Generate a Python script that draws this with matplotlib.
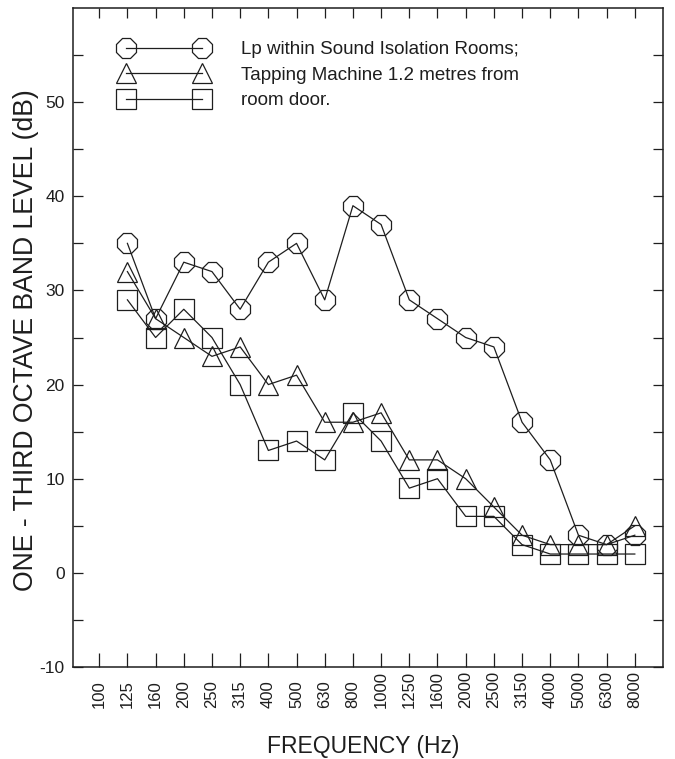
import matplotlib.pyplot as plt
import numpy as np

plt.rcParams['font.family'] = ['Liberation Sans', 'DejaVu Sans']
plt.rcParams['axes.unicode_minus'] = False

# third-octave band centre frequencies (Hz) used as tick labels
freq_labels = ['100', '125', '160', '200', '250', '315', '400', '500', '630', '800',
               '1000', '1250', '1600', '2000', '2500', '3150', '4000', '5000', '6300', '8000']

# levels (dB) for bands 125 .. 8000 Hz
lp_circle = [35, 27, 33, 32, 28, 33, 35, 29, 39, 37, 29, 27, 25, 24, 16, 12, 4, 3, 4]
lp_triangle = [32, 27, 25, 23, 24, 20, 21, 16, 16, 17, 12, 12, 10, 7, 4, 3, 3, 3, 5]
lp_square = [29, 25, 28, 25, 20, 13, 14, 12, 17, 14, 9, 10, 6, 6, 3, 2, 2, 2, 2]

legend_text = ['Lp within Sound Isolation Rooms;',
               'Tapping Machine 1.2 metres from',
               'room door.']

ink = '#1e1e1e'

fig = plt.figure(figsize=(6.75, 7.59), dpi=100)
W, H = 675, 759
ax = fig.add_axes([73 / W, 1 - 667 / H, (663 - 73) / W, (667 - 8) / H])

xpos = np.arange(1, len(freq_labels))
ms = 15
kw = dict(color=ink, lw=0.9, mfc='none', mec=ink, mew=0.9, ms=ms)
ax.plot(xpos, lp_circle, marker='8', label=legend_text[0], **kw)
ax.plot(xpos, lp_triangle, marker='^', label=legend_text[1], **kw)
ax.plot(xpos, lp_square, marker='s', label=legend_text[2], **kw)

ax.set_xlim(-0.93, 20.0)
ax.set_ylim(-10, 60)

ax.set_xticks(np.arange(len(freq_labels)))
ax.set_xticklabels(freq_labels, rotation=90, rotation_mode='anchor',
                   ha='left', va='center', fontsize=12, color=ink)
ax.tick_params(axis='x', direction='in', top=True, length=10, width=0.9,
               pad=29.5, color=ink)
for t in ax.xaxis.get_major_ticks():
    t.tick2line.set_markersize(7)

ax.set_yticks(np.arange(-10, 51, 10))
ax.set_yticks(np.arange(-5, 60, 10), minor=True)
ax.set_yticklabels([str(v) for v in range(-10, 51, 10)], fontsize=12.5, color=ink)
ax.tick_params(axis='y', which='both', direction='in', right=True, length=7,
               width=0.9, pad=6, color=ink)

for s in ax.spines.values():
    s.set_linewidth(1.1)
    s.set_color(ink)

ax.legend(loc='upper left', bbox_to_anchor=(0.08, 0.950), numpoints=2,
          handlelength=4.65, handletextpad=1.8, labelspacing=0.45,
          frameon=False, borderpad=0, borderaxespad=0, fontsize=13.5,
          labelcolor=ink)

fig.text(26.5 / W, 1 - 340 / H, 'ONE - THIRD OCTAVE BAND LEVEL (dB)',
         rotation=90, ha='center', va='center', fontsize=19.2, color=ink)
fig.text(363 / W, 1 - 747 / H, 'FREQUENCY (Hz)', ha='center', va='center',
         fontsize=16.5, color=ink)

fig.savefig('out.png', dpi=100)
